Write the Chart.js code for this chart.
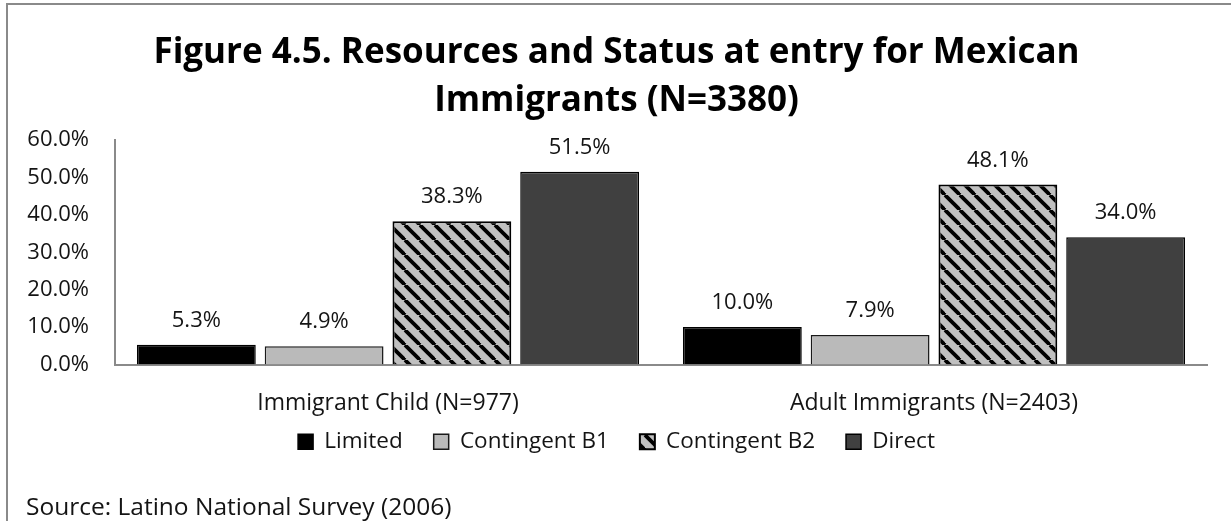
<!DOCTYPE html>
<html>
<head>
<meta charset="utf-8">
<script src="https://cdn.jsdelivr.net/npm/chart.js@4/dist/chart.umd.min.js"></script>
<style>
  html, body { margin: 0; padding: 0; background: #ffffff; overflow: hidden; }
  #frame {
    position: absolute; left: 6px; top: 3px; width: 1400px; height: 700px;
    border-left: 2px solid #8a8a8a; border-top: 2px solid #8a8a8a;
  }
  #wrap { position: absolute; left: 0; top: 0; width: 1231px; height: 521px; }
</style>
</head>
<body>
<div id="frame"></div>
<div id="wrap"><canvas id="chart" width="1231" height="521"></canvas></div>
<script>
// Groups of respondents and the share of each entry status within them (%)
const categories = ['Immigrant Child (N=977)', 'Adult Immigrants (N=2403)'];
const seriesNames = ['Limited', 'Contingent B1', 'Contingent B2', 'Direct'];
const limited = [5.3, 10.0];
const contingentB1 = [4.9, 7.9];
const contingentB2 = [38.3, 48.1];
const direct = [51.5, 34.0];
const yTicks = [0, 10, 20, 30, 40, 50, 60];
const titleLines = ['Figure 4.5. Resources and Status at entry for Mexican', 'Immigrants (N=3380)'];
const sourceNote = 'Source: Latino National Survey (2006)';

const FONT = "'Open Sans', 'DejaVu Sans', sans-serif";
const TEXT = '#141414';
const VALUE_SIZE = 22;

// Category label band below the axis (padding above the text only)
const X_LABEL_PAD = 25;
const X_LABEL_SIZE = 23;
const X_LABEL_LINE = 1.2;

// Legend band: fixed height, items lifted closer to the category labels
const LEGEND_HEIGHT = 78.4;
const LEGEND_RAISE = 17.6;

// Diagonal hatch: black "\" stripes over light grey
function makeHatch() {
  const s = 15;
  const c = document.createElement('canvas');
  c.width = s; c.height = s;
  const g = c.getContext('2d');
  g.fillStyle = '#c0c0c0';
  g.fillRect(0, 0, s, s);
  g.strokeStyle = '#000000';
  g.lineWidth = 3.8;
  for (const off of [-s, 0, s]) {
    g.beginPath();
    g.moveTo(off, 0);
    g.lineTo(off + s, s);
    g.stroke();
  }
  return document.getElementById('chart').getContext('2d').createPattern(c, 'repeat');
}

// Percentage label above every bar
const valueLabels = {
  id: 'valueLabels',
  afterDatasetsDraw(chart) {
    const ctx = chart.ctx;
    ctx.save();
    ctx.font = VALUE_SIZE + 'px ' + FONT;
    ctx.fillStyle = TEXT;
    ctx.textAlign = 'center';
    ctx.textBaseline = 'alphabetic';
    chart.data.datasets.forEach((ds, i) => {
      chart.getDatasetMeta(i).data.forEach((bar, j) => {
        ctx.fillText(ds.data[j].toFixed(1) + '%', bar.x, bar.y - 18);
      });
    });
    ctx.restore();
  }
};

const legendBand = {
  id: 'legendBand',
  beforeLayout(chart) {
    const lg = chart.legend;
    if (lg && !lg.__banded) {
      const fit = lg.fit;
      lg.fit = function () {
        fit.call(this);
        if (this.options.display) this.height = LEGEND_HEIGHT;
      };
      lg.__banded = true;
    }
  },
  afterLayout(chart) {
    if (chart.legend) chart.legend.top -= LEGEND_RAISE;
  }
};

const hatch = makeHatch();

new Chart(document.getElementById('chart'), {
  type: 'bar',
  data: {
    labels: categories,
    datasets: [
      { label: seriesNames[0], data: limited, backgroundColor: '#000000', borderColor: '#000000', borderWidth: 1.5 },
      { label: seriesNames[1], data: contingentB1, backgroundColor: '#bababa', borderColor: '#1a1a1a', borderWidth: 1.5 },
      { label: seriesNames[2], data: contingentB2, backgroundColor: hatch, borderColor: '#000000', borderWidth: 2 },
      { label: seriesNames[3], data: direct, backgroundColor: '#404040', borderColor: '#000000', borderWidth: 1.5 }
    ]
  },
  options: {
    responsive: false,
    animation: false,
    categoryPercentage: 0.936,
    barPercentage: 0.93,
    layout: { padding: { left: 26, right: 24, top: 0, bottom: 1 } },
    scales: {
      x: {
        grid: { display: false, drawTicks: false },
        border: { display: true, color: '#8a8a8a', width: 2 },
        ticks: {
          color: TEXT, font: { family: FONT, size: X_LABEL_SIZE, lineHeight: X_LABEL_LINE },
          padding: X_LABEL_PAD, maxRotation: 0
        },
        afterFit(scale) { scale.height = X_LABEL_PAD + X_LABEL_SIZE * X_LABEL_LINE; }
      },
      y: {
        min: 0, max: 60,
        grid: { display: false, drawTicks: false },
        border: { display: true, color: '#8a8a8a', width: 2 },
        afterBuildTicks(scale) { scale.ticks = yTicks.map(v => ({ value: v })); },
        ticks: {
          color: TEXT, font: { family: FONT, size: 22 }, padding: 26,
          callback: v => v.toFixed(1) + '%'
        },
        afterFit(scale) { scale.width = 89; }
      }
    },
    plugins: {
      title: {
        display: true,
        text: titleLines,
        color: '#000000',
        font: { family: FONT, size: 35, weight: 'bold', lineHeight: 48 / 35 },
        padding: { top: 29, bottom: 15 }
      },
      subtitle: {
        display: true,
        position: 'bottom',
        align: 'start',
        text: sourceNote,
        color: TEXT,
        font: { family: FONT, size: 24.5, weight: 'normal', lineHeight: 1.0 },
        padding: { top: 0, bottom: 0 }
      },
      legend: {
        position: 'bottom',
        labels: {
          color: TEXT,
          font: { family: FONT, size: 22.5 },
          boxWidth: 15, boxHeight: 15,
          padding: 31
        }
      },
      tooltip: { enabled: false }
    }
  },
  plugins: [valueLabels, legendBand]
});
</script>
</body>
</html>
